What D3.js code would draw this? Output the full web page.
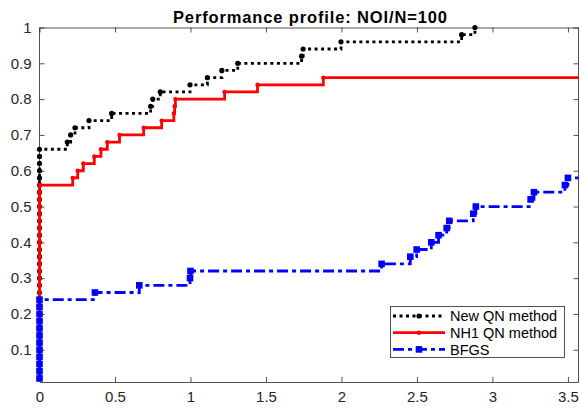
<!DOCTYPE html>
<html><head><meta charset="utf-8">
<script src="https://cdn.jsdelivr.net/npm/d3@7"></script>
<style>body{margin:0;background:#fff}svg{display:block;font-family:"Liberation Sans",Arial,sans-serif}</style>
</head><body><svg id="c" width="580" height="408"></svg>
<script>
const titleText = "Performance profile: NOI/N=100";
const seriesNames = ["New QN method", "NH1 QN method", "BFGS"];
const xTicks = [0, 0.5, 1, 1.5, 2, 2.5, 3, 3.5];
const yTicks = [0.1, 0.2, 0.3, 0.4, 0.5, 0.6, 0.7, 0.8, 0.9, 1];
const xEnd = 3.57;

const newQN_x = [0,0,0,0,0,0,0,0,0,0,0,0,0,0,0,0,0,0,0,0,0,0,0,0,0,0,0,0,0,0,0,0,0,
  0.184,0.206,0.235,0.328,0.478,0.736,0.75,0.80,0.997,1.112,1.208,1.313,1.736,1.746,1.997,2.796,2.884];
const newQN_y = [0.02,0.04,0.06,0.08,0.10,0.12,0.14,0.16,0.18,0.20,0.22,0.24,0.26,0.28,0.30,0.32,0.34,0.36,0.38,0.40,0.42,0.44,0.46,0.48,0.50,0.52,0.54,0.56,0.58,0.60,0.62,0.64,0.66,
  0.68,0.70,0.72,0.74,0.76,0.78,0.80,0.82,0.84,0.86,0.88,0.90,0.92,0.94,0.96,0.98,1.00];

const nh1_x = [0,0,0,0,0,0,0,0,0,0,0,0,0,0,0,0,0,0,0,0,0,0,0,0,0,0,0,0,
  0.22,0.253,0.29,0.363,0.407,0.449,0.53,0.69,0.809,0.89,0.895,0.90,1.226,1.444,1.88];
const nh1_y = [0.02,0.04,0.06,0.08,0.10,0.12,0.14,0.16,0.18,0.20,0.22,0.24,0.26,0.28,0.30,0.32,0.34,0.36,0.38,0.40,0.42,0.44,0.46,0.48,0.50,0.52,0.54,0.56,
  0.58,0.60,0.62,0.64,0.66,0.68,0.70,0.72,0.74,0.76,0.78,0.80,0.82,0.84,0.86];

const bfgs_x = [0,0,0,0,0,0,0,0,0,0,0,0,
  0.367,0.661,0.997,1.0,2.266,2.456,2.498,2.595,2.643,2.697,2.714,2.873,2.89,3.253,3.275,3.48,3.50];
const bfgs_y = [0.02,0.04,0.06,0.08,0.10,0.12,0.14,0.16,0.18,0.20,0.22,0.24,
  0.26,0.28,0.30,0.32,0.34,0.36,0.38,0.40,0.42,0.44,0.46,0.48,0.50,0.52,0.54,0.56,0.58];

const svg = d3.select("#c");
const L = 39.5, R = 578.5, T = 27.5, B = 382;
const x = d3.scaleLinear().domain([0, xEnd]).range([L, R]);
const y = d3.scaleLinear().domain([0.01, 1]).range([B, T]);
const axisColor = "#262626";

svg.append("defs").append("clipPath").attr("id","clip")
  .append("rect").attr("x", L-4).attr("y", T-4).attr("width", R-L+8).attr("height", B-T+8);

// axes
const fmt = d => String(d);
const gx = svg.append("g").attr("transform", `translate(0,${B})`)
  .call(d3.axisBottom(x).tickValues(xTicks).tickFormat(fmt).tickSizeInner(-5).tickSizeOuter(0).tickPadding(9));
const gxt = svg.append("g").attr("transform", `translate(0,${T})`)
  .call(d3.axisTop(x).tickValues(xTicks).tickFormat("").tickSizeInner(-5).tickSizeOuter(0));
const gy = svg.append("g").attr("transform", `translate(${L},0)`)
  .call(d3.axisLeft(y).tickValues(yTicks).tickFormat(fmt).tickSizeInner(-5).tickSizeOuter(0).tickPadding(8));
const gyr = svg.append("g").attr("transform", `translate(${R},0)`)
  .call(d3.axisRight(y).tickValues(yTicks).tickFormat("").tickSizeInner(-5).tickSizeOuter(0));
[gx, gxt, gy, gyr].forEach(g => {
  g.selectAll("path,line").attr("stroke", axisColor).attr("stroke-width", 0.8);
  g.selectAll("text").attr("fill", axisColor).style("font-size", "15px").style("font-family", '"Liberation Sans",Arial,sans-serif');
});
gy.select(".domain").attr("d", `M0,${B}V${T}`);
gyr.select(".domain").attr("d", `M0,${B}V${T}`);

// series
const plot = svg.append("g").attr("clip-path", "url(#clip)");
const line = d3.line().x(d => x(d[0])).y(d => y(d[1])).curve(d3.curveStepAfter);
function pts(xs, ys){ return xs.map((v,i) => [v, ys[i]]); }
const series = [
  {name: seriesNames[0], data: pts(newQN_x, newQN_y), color: "#000000", dash: "3,3.5", width: 2.8, marker: "dot", end: false},
  {name: seriesNames[1], data: pts(nh1_x, nh1_y), color: "#ff0000", dash: null, width: 2.8, marker: "small", end: true},
  {name: seriesNames[2], data: pts(bfgs_x, bfgs_y), color: "#0000ff", dash: "11,4,4,4", width: 2.8, marker: "square", end: true}
];
function drawMarker(g, cx, cy, s){
  if (s.marker === "dot") g.append("circle").attr("cx", cx).attr("cy", cy).attr("r", 2.6).attr("fill", s.color);
  else if (s.marker === "small") g.append("circle").attr("cx", cx).attr("cy", cy).attr("r", 2.2).attr("fill", s.color);
  else g.append("rect").attr("x", cx-3.3).attr("y", cy-3.3).attr("width", 6.6).attr("height", 6.6).attr("fill", s.color);
}
series.forEach(s => {
  const d = s.end ? s.data.concat([[xEnd, s.data[s.data.length-1][1]]]) : s.data;
  plot.append("path").attr("d", line(d)).attr("fill","none").attr("stroke", s.color)
    .attr("stroke-width", s.width).attr("stroke-dasharray", s.dash);
  const mg = plot.append("g");
  s.data.forEach(p => drawMarker(mg, x(p[0]), y(p[1]), s));
});

// title
svg.append("text").attr("x", 310).attr("y", 23).attr("text-anchor","middle")
  .attr("textLength", 274).attr("lengthAdjust", "spacing")
  .style("font-weight","bold").style("font-size","16.5px").attr("fill","#000").text(titleText);

// legend
const lg = svg.append("g");
lg.append("rect").attr("x", 390.5).attr("y", 306.5).attr("width", 174).attr("height", 51)
  .attr("fill","#fff").attr("stroke", axisColor).attr("stroke-width", 0.8);
series.forEach((s,i) => {
  const cy = 316 + i*16.7;
  lg.append("line").attr("x1", 393).attr("x2", 445).attr("y1", cy).attr("y2", cy)
    .attr("stroke", s.color).attr("stroke-width", s.width).attr("stroke-dasharray", s.dash);
  drawMarker(lg, 419, cy, s);
  lg.append("text").attr("x", 450).attr("y", cy + 5.2).style("font-size","14.5px").attr("fill","#000").text(s.name);
});
</script></body></html>
